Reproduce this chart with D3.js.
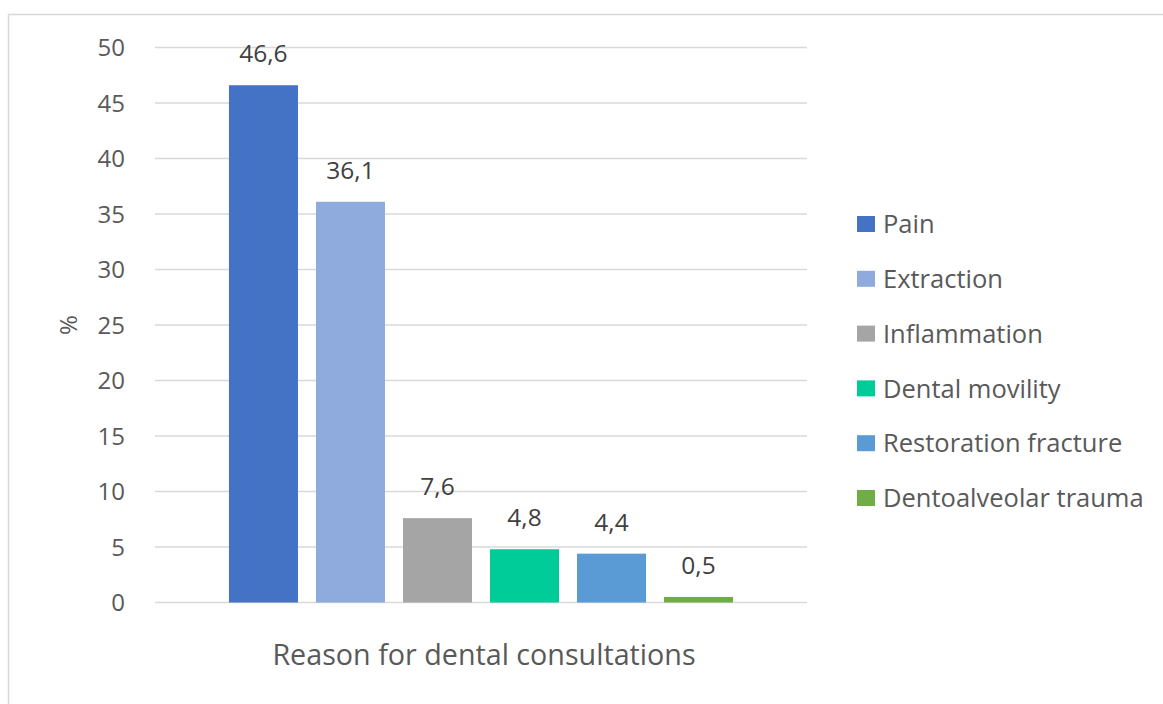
<!DOCTYPE html>
<html>
<head>
<meta charset="utf-8">
<script src="https://cdn.jsdelivr.net/npm/d3@7/dist/d3.min.js"></script>
<style>
  body { margin: 0; background: #fff; }
  svg { display: block; font-family: "Open Sans", Lato, sans-serif; }
</style>
</head>
<body>
<div id="chart"></div>
<script>
// reasons and their share (%)
const reasons = ["Pain", "Extraction", "Inflammation", "Dental movility", "Restoration fracture", "Dentoalveolar trauma"];
const percents = [46.6, 36.1, 7.6, 4.8, 4.4, 0.5];
const colors = ["#4472C4", "#8FAADC", "#A5A5A5", "#00CC99", "#5B9BD5", "#70AD47"];
const yTicks = [0, 5, 10, 15, 20, 25, 30, 35, 40, 45, 50];

const width = 1163;
const height = 704;
const plot = { left: 155, right: 807, top: 47.5, bottom: 602.5 };

const svg = d3.select("#chart")
  .append("svg")
  .attr("width", width)
  .attr("height", height);

// chart frame (only top/left edge visible in the crop)
svg.append("rect")
  .attr("x", 8.5).attr("y", 14.5)
  .attr("width", width + 20).attr("height", height + 20)
  .attr("fill", "none")
  .attr("stroke", "#d9d9d9")
  .attr("stroke-width", 1.5);

const y = d3.scaleLinear().domain([0, 50]).range([plot.bottom, plot.top]);

const x = d3.scaleBand()
  .domain(reasons)
  .range([plot.left, plot.right])
  .paddingInner(0.207)
  .paddingOuter(0.85);

// gridlines
svg.append("g")
  .selectAll("line")
  .data(yTicks)
  .enter()
  .append("line")
  .attr("x1", plot.left)
  .attr("x2", plot.right)
  .attr("y1", d => y(d))
  .attr("y2", d => y(d))
  .attr("stroke", "#d9d9d9")
  .attr("stroke-width", 1.5);

// y tick labels
svg.append("g")
  .selectAll("text")
  .data(yTicks)
  .enter()
  .append("text")
  .attr("x", 125)
  .attr("y", d => y(d))
  .attr("dy", "0.36em")
  .attr("text-anchor", "end")
  .attr("fill", "#595959")
  .style("font-size", "24px")
  .text(d => d);

// bars
svg.append("g")
  .selectAll("rect")
  .data(reasons)
  .enter()
  .append("rect")
  .attr("x", d => x(d))
  .attr("width", x.bandwidth())
  .attr("y", (d, i) => y(percents[i]))
  .attr("height", (d, i) => y(0) - y(percents[i]))
  .attr("fill", (d, i) => colors[i]);

// data labels
svg.append("g")
  .selectAll("text")
  .data(reasons)
  .enter()
  .append("text")
  .attr("x", d => x(d) + x.bandwidth() / 2)
  .attr("y", (d, i) => y(percents[i]) - 23)
  .attr("text-anchor", "middle")
  .attr("fill", "#404040")
  .style("font-size", "24.5px")
  .text((d, i) => String(percents[i]).replace(".", ","));

// axis titles
svg.append("text")
  .attr("x", (plot.left + plot.right) / 2 + 3)
  .attr("y", 665)
  .attr("text-anchor", "middle")
  .attr("fill", "#595959")
  .style("font-size", "28.7px")
  .text("Reason for dental consultations");

svg.append("text")
  .attr("transform", "translate(77,325) rotate(-90)")
  .attr("text-anchor", "middle")
  .attr("fill", "#595959")
  .style("font-size", "24px")
  .text("%");

// legend
const legend = svg.append("g")
  .selectAll("g")
  .data(reasons)
  .enter()
  .append("g")
  .attr("transform", (d, i) => `translate(857,${224 + i * 54.8})`);

legend.append("rect")
  .attr("x", 0).attr("y", -8)
  .attr("width", 18).attr("height", 16)
  .attr("fill", (d, i) => colors[i]);

legend.append("text")
  .attr("x", 26)
  .attr("dy", "0.36em")
  .attr("fill", "#595959")
  .style("font-size", "25.5px")
  .text(d => d);
</script>
</body>
</html>
